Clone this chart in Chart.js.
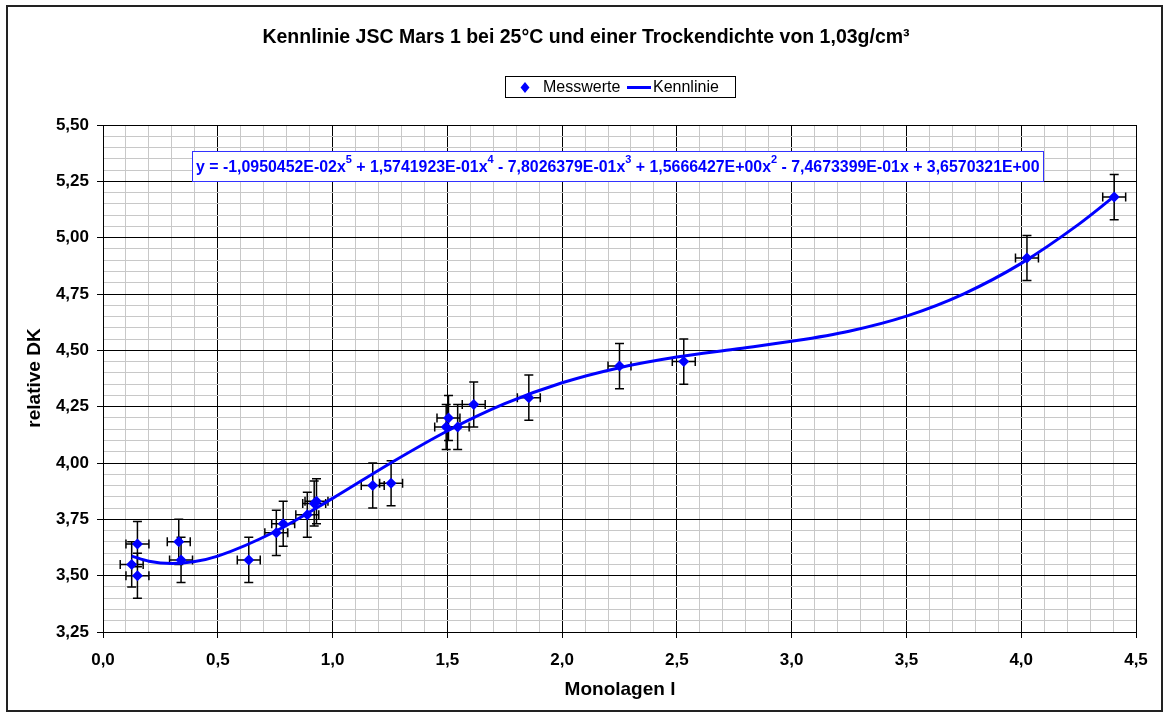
<!DOCTYPE html>
<html>
<head>
<meta charset="utf-8">
<script src="https://cdn.jsdelivr.net/npm/chart.js@4"></script>
<style>
  body { margin: 0; background: #fff; }
  canvas { display: block; }
</style>
</head>
<body>
<canvas id="kennlinie" width="1164" height="713"></canvas>
<script>
let messX = [0.15, 0.125, 0.15, 0.33, 0.34, 0.635, 0.755, 0.785, 0.89, 0.92, 0.93, 1.175, 1.255, 1.495, 1.505, 1.545, 1.615, 1.855, 2.25, 2.53, 4.025, 4.405];
let messY = [3.64, 3.55, 3.50, 3.65, 3.57, 3.57, 3.69, 3.73, 3.77, 3.82, 3.83, 3.90, 3.91, 4.16, 4.20, 4.16, 4.26, 4.29, 4.43, 4.45, 4.91, 5.18];
let errX = 0.05;
let errY = 0.10;

// Kennlinie
let kennX = [0.125, 0.2, 0.3, 0.4, 0.5, 0.75, 1.0, 1.25, 1.5, 1.75, 2.0, 2.25, 2.5, 2.75, 3.0, 3.25, 3.5, 3.75, 4.0, 4.25, 4.405];
let kennY = [3.587, 3.564, 3.554, 3.563, 3.587, 3.696, 3.843, 3.998, 4.142, 4.263, 4.356, 4.423, 4.470, 4.505, 4.540, 4.585, 4.652, 4.751, 4.886, 5.059, 5.183];

let xTickLabels = ["0,0", "0,5", "1,0", "1,5", "2,0", "2,5", "3,0", "3,5", "4,0", "4,5"];
let yTickLabels = ["3,25", "3,50", "3,75", "4,00", "4,25", "4,50", "4,75", "5,00", "5,25", "5,50"];

let chartTitle = "Kennlinie JSC Mars 1 bei 25°C und einer Trockendichte von 1,03g/cm³";
let legendNames = ["Messwerte", "Kennlinie"];
let xTitle = "Monolagen l";
let yTitle = "relative DK";
// equation of the trend line, [text, superscript?]
let equation = [
    ["y = -1,0950452E-02x", false], ["5", true],
    [" + 1,5741923E-01x", false], ["4", true],
    [" - 7,8026379E-01x", false], ["3", true],
    [" + 1,5666427E+00x", false], ["2", true],
    [" - 7,4673399E-01x + 3,6570321E+00", false]
];

const FONT = "'Liberation Sans', Arial, sans-serif";

function isMajor(v, step) {
    return Math.abs(v / step - Math.round(v / step)) < 1e-6;
}

// minor grid every 0.1 (x) and 0.05 (y)
function minorTicks(scale, step, count) {
    let t = [];
    for (let i = 0; i <= count; i++) {
        t.push({value: Math.round((scale.min + i * step) * 1000) / 1000});
    }
    scale.ticks = t;
}

let messData = [];
for (let i = 0; i < messX.length; i++) {
    messData.push({x: messX[i], y: messY[i]});
}
let kennData = [];
for (let i = 0; i < kennX.length; i++) {
    kennData.push({x: kennX[i], y: kennY[i]});
}

// error bars, title, legend box, equation, axis titles, outer frame
const extras = {
    id: 'extras',
    beforeDatasetsDraw(chart) {
        const ctx = chart.ctx;
        const xs = chart.scales.x, ys = chart.scales.y;
        ctx.save();
        ctx.strokeStyle = '#000';
        ctx.lineWidth = 1.5;
        for (let i = 0; i < messX.length; i++) {
            let px = xs.getPixelForValue(messX[i]);
            let py = ys.getPixelForValue(messY[i]);
            let x0 = xs.getPixelForValue(messX[i] - errX), x1 = xs.getPixelForValue(messX[i] + errX);
            let y0 = ys.getPixelForValue(messY[i] - errY), y1 = ys.getPixelForValue(messY[i] + errY);
            ctx.beginPath();
            ctx.moveTo(px, y0); ctx.lineTo(px, y1);
            ctx.moveTo(px - 4.5, y0); ctx.lineTo(px + 4.5, y0);
            ctx.moveTo(px - 4.5, y1); ctx.lineTo(px + 4.5, y1);
            ctx.moveTo(x0, py); ctx.lineTo(x1, py);
            ctx.moveTo(x0, py - 4.5); ctx.lineTo(x0, py + 4.5);
            ctx.moveTo(x1, py - 4.5); ctx.lineTo(x1, py + 4.5);
            ctx.stroke();
        }
        ctx.restore();
    },
    afterDraw(chart) {
        const ctx = chart.ctx;
        ctx.save();
        ctx.fillStyle = '#000';
        ctx.textBaseline = 'middle';

        // title
        ctx.font = "bold 19.5px " + FONT;
        ctx.textAlign = 'center';
        ctx.fillText(chartTitle, 586, 38);

        // legend
        ctx.fillStyle = '#fff';
        ctx.fillRect(505, 76, 230, 22);
        ctx.strokeStyle = '#000';
        ctx.lineWidth = 1;
        ctx.strokeRect(505.5, 76.5, 230, 21);
        ctx.fillStyle = '#0000ff';
        ctx.beginPath();
        ctx.moveTo(525, 82); ctx.lineTo(529.5, 87.5); ctx.lineTo(525, 93); ctx.lineTo(520.5, 87.5);
        ctx.closePath();
        ctx.fill();
        ctx.strokeStyle = '#0000ff';
        ctx.lineWidth = 3;
        ctx.beginPath();
        ctx.moveTo(627, 87.5); ctx.lineTo(651, 87.5);
        ctx.stroke();
        ctx.fillStyle = '#000';
        ctx.font = "16px " + FONT;
        ctx.textAlign = 'left';
        ctx.fillText(legendNames[0], 543, 88);
        ctx.fillText(legendNames[1], 653, 88);

        // equation box
        ctx.fillStyle = '#fff';
        ctx.fillRect(192, 151, 851, 31);
        ctx.strokeStyle = '#3333ff';
        ctx.lineWidth = 1;
        ctx.strokeRect(192.5, 151.5, 851, 30);
        ctx.fillStyle = '#0000ff';
        let ex = 196;
        for (const [txt, sup] of equation) {
            ctx.font = sup ? "bold 11px " + FONT : "bold 15.9px " + FONT;
            ctx.fillText(txt, ex, sup ? 160 : 168);
            ex += ctx.measureText(txt).width;
        }

        // axis titles
        ctx.fillStyle = '#000';
        ctx.font = "bold 19px " + FONT;
        ctx.textAlign = 'center';
        ctx.fillText(xTitle, 620, 690);
        ctx.translate(35, 378);
        ctx.rotate(-Math.PI / 2);
        ctx.fillText(yTitle, 0, 0);
        ctx.restore();

        // outer frame
        ctx.save();
        ctx.strokeStyle = '#222';
        ctx.lineWidth = 2;
        ctx.strokeRect(7, 6, 1155, 705);
        ctx.restore();
    }
};

const kennChart = new Chart(document.getElementById('kennlinie'), {
    data: {
        datasets: [{
            type: 'scatter',
            label: legendNames[0],
            data: messData,
            pointStyle: 'rectRot',
            radius: 5.5,
            hoverRadius: 5.5,
            backgroundColor: '#0000ff',
            borderColor: '#0000ff',
            borderWidth: 0,
            order: 0
        },
        {
            type: 'line',
            label: legendNames[1],
            data: kennData,
            borderColor: '#0000ff',
            borderWidth: 3,
            pointRadius: 0,
            cubicInterpolationMode: 'monotone',
            fill: false,
            order: 1
        }]
    },
    options: {
        responsive: false,
        animation: false,
        devicePixelRatio: 1,
        layout: {
            padding: {left: 0, right: 28, top: 125, bottom: 0}
        },
        scales: {
            x: {
                type: 'linear',
                min: 0,
                max: 4.5,
                afterFit: (s) => { s.height = 81; },
                afterBuildTicks: (s) => minorTicks(s, 0.1, 45),
                border: {display: true, color: '#000', width: 1},
                grid: {
                    color: (c) => isMajor(c.tick.value, 0.5) ? '#000' : '#c8c8c8',
                    tickColor: (c) => isMajor(c.tick.value, 0.5) ? '#000' : 'rgba(0,0,0,0)',
                    tickLength: 6,
                    lineWidth: 1
                },
                ticks: {
                    autoSkip: false,
                    maxRotation: 0,
                    padding: 12,
                    color: '#000',
                    font: {family: FONT, size: 17, weight: 'bold'},
                    callback: (v) => isMajor(v, 0.5) ? xTickLabels[Math.round(v / 0.5)] : ''
                }
            },
            y: {
                type: 'linear',
                min: 3.25,
                max: 5.5,
                afterFit: (s) => { s.width = 103; },
                afterBuildTicks: (s) => minorTicks(s, 0.05, 45),
                border: {display: true, color: '#000', width: 1},
                grid: {
                    color: (c) => isMajor(c.tick.value, 0.25) ? '#000' : '#c8c8c8',
                    tickColor: (c) => isMajor(c.tick.value, 0.25) ? '#000' : 'rgba(0,0,0,0)',
                    tickLength: 6,
                    lineWidth: 1
                },
                ticks: {
                    autoSkip: false,
                    padding: 8,
                    color: '#000',
                    font: {family: FONT, size: 17, weight: 'bold'},
                    callback: (v) => isMajor(v, 0.25) ? yTickLabels[Math.round((v - 3.25) / 0.25)] : ''
                }
            }
        },
        plugins: {
            legend: {display: false},
            title: {display: false},
            tooltip: {enabled: false}
        }
    },
    plugins: [extras]
});
</script>
</body>
</html>
